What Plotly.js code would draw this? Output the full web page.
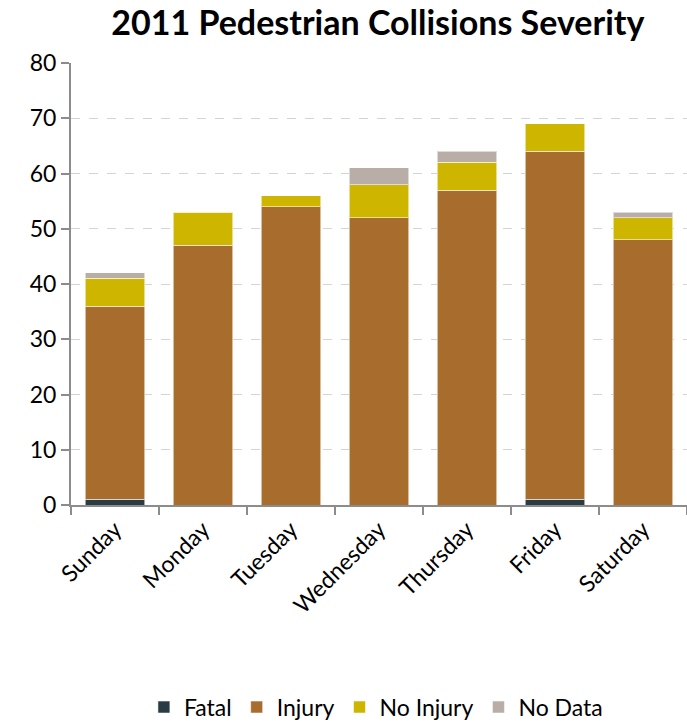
<!DOCTYPE html>
<html><head><meta charset="utf-8">
<script src="https://cdn.plot.ly/plotly-3.0.1.min.js"></script>
<style>html,body{margin:0;padding:0;background:#fff}#c{width:687px;height:723px}</style>
</head><body><div id="c"></div>
<script>
var days = ["Sunday","Monday","Tuesday","Wednesday","Thursday","Friday","Saturday"];
var fatal = [1,0,0,0,0,1,0];
var injury = [35,47,54,52,57,63,48];
var noInjury = [5,6,2,6,5,5,4];
var noData = [1,0,0,3,2,0,1];
var seriesNames = ["Fatal","Injury","No Injury","No Data"];
var seriesColors = ["#2b3b44","#a86d2d","#cdb500","#b9aea7"];
var seriesValues = [fatal, injury, noInjury, noData];
var yTicks = [0,10,20,30,40,50,60,70,80];

var font = "Lato, 'Open Sans', sans-serif";
var traces = seriesValues.map(function(v,i){
  return {type:"bar", x:days, y:v, name:seriesNames[i],
    marker:{color:seriesColors[i], line:{color:"rgba(255,255,255,0.55)", width:1}},
    hoverinfo:"y"};
});
var layout = {
  width:687, height:723, barmode:"stack", bargap:0.32,
  margin:{l:71, r:0, t:63, b:218, autoexpand:false},
  paper_bgcolor:"#fff", plot_bgcolor:"#fff",
  font:{family:font, color:"#000", size:23},
  title:{text:"<b>2011 Pedestrian Collisions Severity</b>", x:0.55, xanchor:"center", yref:"container", y:0.968, yanchor:"middle", font:{size:34, family:font, color:"#000"}},
  xaxis:{type:"category", showline:true, linecolor:"#8c8c8c", linewidth:2, ticks:"outside", tickson:"boundaries", ticklen:8, tickcolor:"#8c8c8c", tickwidth:2, tickangle:-45, tickfont:{size:23}, showgrid:false, zeroline:false, automargin:false},
  yaxis:{range:[0,80], tickvals:yTicks, showline:true, linecolor:"#8c8c8c", linewidth:2, ticks:"outside", ticklen:8, tickcolor:"#8c8c8c", tickwidth:2, showgrid:true, gridcolor:"#d4d4d4", griddash:"dash", gridwidth:1, zeroline:false, tickfont:{size:23}, automargin:false},
  legend:{orientation:"h", x:0.495, xanchor:"center", yref:"container", y:0.022, yanchor:"middle", font:{size:23}, traceorder:"normal", itemwidth:20},
  showlegend:true
};
Plotly.newPlot("c", traces, layout, {displayModeBar:false});
</script></body></html>
